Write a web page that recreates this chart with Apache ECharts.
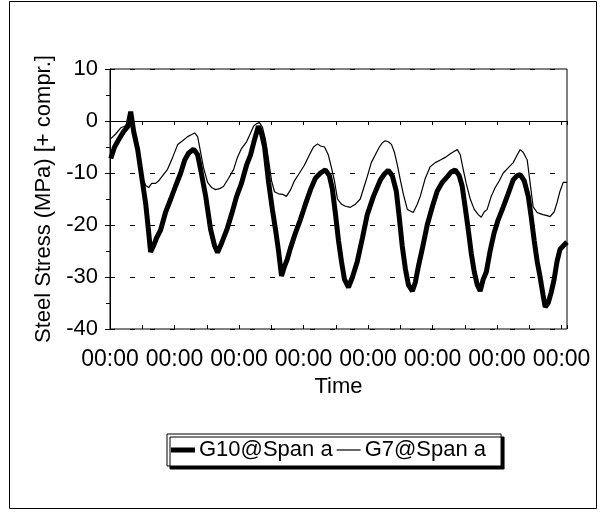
<!DOCTYPE html>
<html>
<head>
<meta charset="utf-8">
<script src="https://cdn.jsdelivr.net/npm/echarts@6/dist/echarts.min.js"></script>
<style>
  html, body { margin: 0; padding: 0; background: #fff; }
  #chart { width: 602px; height: 514px; }
</style>
</head>
<body>
<div id="chart"></div>
<script>
// time in hours from the first 00:00 tick, stress in MPa (+ = compression)
const g10Hours = [0.3, 1.7, 3.2, 5.1, 6.6, 7.7, 8.8, 10.3, 12.1, 13.3, 14.4, 15.1, 16.2, 17.3, 18.8, 20.7, 22.6, 24.4, 26.3, 27.8,
  29.2, 31.1, 32.6, 33.7, 35.6, 37.4, 38.9, 40.0, 41.5, 43.4, 45.2, 47.1, 48.9, 50.8, 52.3, 53.8, 55.2, 56.4, 57.5, 59.0,
  60.4, 61.6, 62.7, 63.8, 64.9, 66.0, 67.1, 69.0, 70.8, 72.7, 74.6, 76.4, 78.3, 80.1, 81.6, 82.7, 83.9, 85.0, 86.1, 87.2,
  88.7, 90.2, 92.0, 93.9, 95.7, 98.0, 100.6, 102.1, 103.5, 105.0, 106.5, 107.6, 108.7, 109.9, 111.0, 112.5, 113.6, 114.7, 116.2, 118.0,
  119.9, 121.7, 123.6, 125.5, 126.9, 128.4, 129.9, 131.0, 132.1, 133.3, 134.4, 135.5, 136.6, 137.7, 138.8, 140.0, 141.4, 142.9, 144.4, 146.3,
  148.1, 150.0, 151.5, 152.6, 154.1, 155.6, 156.7, 157.8, 158.9, 160.0, 161.1, 161.9, 163.0, 164.1, 165.2, 166.3, 167.4, 168.6, 170.0];
const g10Stress = [-7.2, -5, -3.6, -2, -1.1, 1.8, -2, -5.5, -11.8, -16, -21.5, -25.2, -24, -22.5, -21, -17.5, -15, -12.5, -10, -7.5,
  -6.2, -5.4, -6.5, -9.3, -14.5, -20.8, -24, -25.3, -23.5, -21, -18, -14.5, -12, -8.5, -6.5, -3.5, -1, -2.5, -5, -11.8,
  -17, -21, -25, -29.8, -28, -26.5, -24.5, -21.5, -19, -16, -13.2, -11, -10, -9.4, -10.5, -13, -18, -23, -27, -30.4,
  -32, -30, -27, -22.5, -18, -14.5, -11.3, -10.2, -9.5, -10.5, -13.5, -18.5, -24, -28.5, -31.5, -32.7, -31, -28, -24.5, -20,
  -16.5, -13.5, -11.8, -10.7, -9.8, -9.4, -10.5, -12.5, -16.5, -21, -25.5, -29, -31.5, -32.7, -30.5, -29, -25, -21.5, -19, -16.5,
  -14, -11.3, -10.5, -10.3, -11.5, -14.5, -18.5, -23, -27, -30, -33.5, -35.8, -35, -33, -30.5, -27, -24.7, -24, -23.3];

const g7Hours = [0.3, 2.1, 4.0, 5.5, 6.6, 7.7, 8.8, 9.9, 11.0, 12.1, 13.3, 14.4, 15.5, 17.0, 18.1, 19.6, 21.4, 23.3, 25.2, 27.0,
  28.9, 30.4, 31.5, 32.6, 33.7, 34.8, 36.3, 37.8, 39.3, 40.8, 42.2, 44.1, 46.0, 47.4, 48.9, 50.8, 52.3, 53.4, 54.5, 55.6,
  56.7, 57.8, 59.0, 60.1, 61.2, 62.7, 64.2, 65.6, 67.1, 68.6, 70.5, 72.3, 74.2, 75.7, 77.2, 78.3, 79.8, 81.2, 82.4, 83.5,
  84.6, 86.1, 87.6, 89.4, 91.3, 93.1, 94.6, 95.7, 97.2, 98.7, 100.2, 101.3, 102.4, 103.5, 104.7, 105.8, 106.9, 108.0, 109.1, 110.6,
  111.7, 112.8, 114.3, 115.4, 117.3, 119.1, 121.0, 122.9, 124.7, 126.6, 128.1, 129.2, 130.3, 131.4, 132.5, 134.0, 135.5, 137.0, 138.1, 139.2,
  140.3, 141.8, 143.3, 144.8, 146.3, 148.1, 150.0, 151.5, 152.6, 153.7, 155.2, 156.3, 157.4, 158.9, 160.0, 161.1, 162.6, 163.7, 165.2, 166.3,
  167.4, 168.6, 170.0];
const g7Stress = [-3.4, -2.5, -1.3, -1, -0.4, 1.5, -1.5, -4.5, -8, -11, -12.4, -12.8, -12, -12, -11.5, -10.5, -9.3, -7, -4.5, -3.8,
  -3, -2.6, -2.3, -3, -6, -9, -11.8, -12.8, -13.2, -13, -12.6, -11, -9.3, -7, -5.3, -4, -2.3, -1, -0.5, -0.3,
  -1.2, -3.5, -7.5, -11.5, -13.6, -14, -14.1, -14.5, -13.3, -11.5, -10, -8.5, -6.5, -5, -4.4, -4.8, -5, -6.5, -9, -11.5,
  -15, -16, -16.4, -16.6, -16, -15, -12.5, -10.7, -8, -6.5, -5, -4.2, -3.8, -4, -4.5, -6, -8.5, -11.3, -14, -17,
  -17.3, -17.6, -16, -14.5, -11, -8.8, -8, -7.5, -7, -6.3, -5.8, -5.5, -6.5, -9.3, -12, -15, -17, -18, -18.5, -17.5,
  -17, -14.5, -12.8, -11.5, -10, -9, -8, -6.5, -5.5, -6, -7.5, -12, -16.5, -17.6, -17.8, -18, -18.2, -18.4, -17.5, -15.7,
  -13.5, -11.8, -11.8];

const seriesNames = ["G10@Span a", "G7@Span a"];
const yMin = -40, yMax = 10, yStep = 10;
const xMax = 170, xStep = 12, labelEvery = 24;
const tickLabel = "00:00";

const zip = (xs, ys) => xs.map((x, i) => [x, ys[i]]);
const font = "'Liberation Sans', Arial, sans-serif";
const plotHeight = 260;

const chart = echarts.init(document.getElementById("chart"));
chart.setOption({
  animation: false,
  backgroundColor: "#fff",
  textStyle: { fontFamily: font, color: "#000" },
  graphic: [{
    type: "rect",
    shape: { x: 9.5, y: 1.5, width: 587, height: 507 },
    style: { fill: "none", stroke: "#000", lineWidth: 1 },
    z: -1
  }],
  grid: { left: 110, top: 69, width: 457, height: plotHeight, show: true, borderColor: "#000", borderWidth: 1 },
  legend: {
    data: [
      { name: seriesNames[0], icon: "path://M0 0H24V5H0Z" },
      { name: seriesNames[1], icon: "path://M0 0H24V1.2H0Z" }
    ],
    left: 167,
    top: 434,
    padding: [5, 15, 5, 4],
    itemGap: 4,
    itemWidth: 24,
    itemHeight: 14,
    backgroundColor: "#fff",
    borderColor: "#000",
    borderWidth: 1,
    shadowColor: "#000",
    shadowBlur: 0,
    shadowOffsetX: 3,
    shadowOffsetY: 3,
    itemStyle: { color: "#000", borderWidth: 0 },
    textStyle: { fontFamily: font, fontSize: 22, color: "#000", padding: [0, 0, 0, -1] }
  },
  xAxis: [
    {
      type: "value",
      min: 0,
      max: xMax,
      interval: xStep,
      name: "Time",
      nameLocation: "middle",
      nameGap: 42,
      nameTextStyle: { fontFamily: font, fontSize: 22, color: "#000" },
      axisLine: { lineStyle: { color: "#000", width: 1 } },
      axisTick: { show: true, length: 4, lineStyle: { color: "#000" } },
      axisLabel: {
        fontFamily: font, fontSize: 23, color: "#000", margin: 19,
        formatter: (v) => (v % labelEvery === 0 ? tickLabel : "")
      },
      splitLine: { show: false }
    },
    {
      // second copy of the time axis, pulled down onto the bottom edge so the ticks cross it
      type: "value",
      position: "top",
      offset: -plotHeight,
      min: 0,
      max: xMax,
      interval: xStep,
      axisLine: { show: false },
      axisTick: { show: true, length: 4, lineStyle: { color: "#000" } },
      axisLabel: { show: false },
      splitLine: { show: false }
    }
  ],
  yAxis: {
    type: "value",
    min: yMin,
    max: yMax,
    interval: yStep,
    name: "Steel Stress (MPa) [+ compr.]",
    nameLocation: "middle",
    nameGap: 50,
    nameTextStyle: { fontFamily: font, fontSize: 22, color: "#000" },
    axisLine: { show: true, lineStyle: { color: "#000", width: 1 } },
    axisTick: { show: true, length: 5, lineStyle: { color: "#000" } },
    minorTick: { show: true, splitNumber: 2, length: 4, lineStyle: { color: "#000" } },
    axisLabel: { fontFamily: font, fontSize: 22, color: "#000", margin: 12 },
    splitLine: { show: true, lineStyle: { color: "#000", width: 1, type: [5, 15] } }
  },
  series: [
    {
      name: seriesNames[0],
      type: "line",
      xAxisIndex: 0,
      data: zip(g10Hours, g10Stress),
      symbol: "none",
      smooth: false,
      lineStyle: { color: "#000", width: 5 },
      itemStyle: { color: "#000" },
      markLine: {
        silent: true,
        symbol: "none",
        label: { show: false },
        lineStyle: { color: "#000", width: 1, type: "solid" },
        data: [{ yAxis: 0 }]
      },
      z: 3
    },
    {
      name: seriesNames[1],
      type: "line",
      xAxisIndex: 0,
      data: zip(g7Hours, g7Stress),
      symbol: "none",
      smooth: false,
      lineStyle: { color: "#000", width: 1.2 },
      itemStyle: { color: "#000" },
      z: 4
    }
  ]
});
</script>
</body>
</html>
